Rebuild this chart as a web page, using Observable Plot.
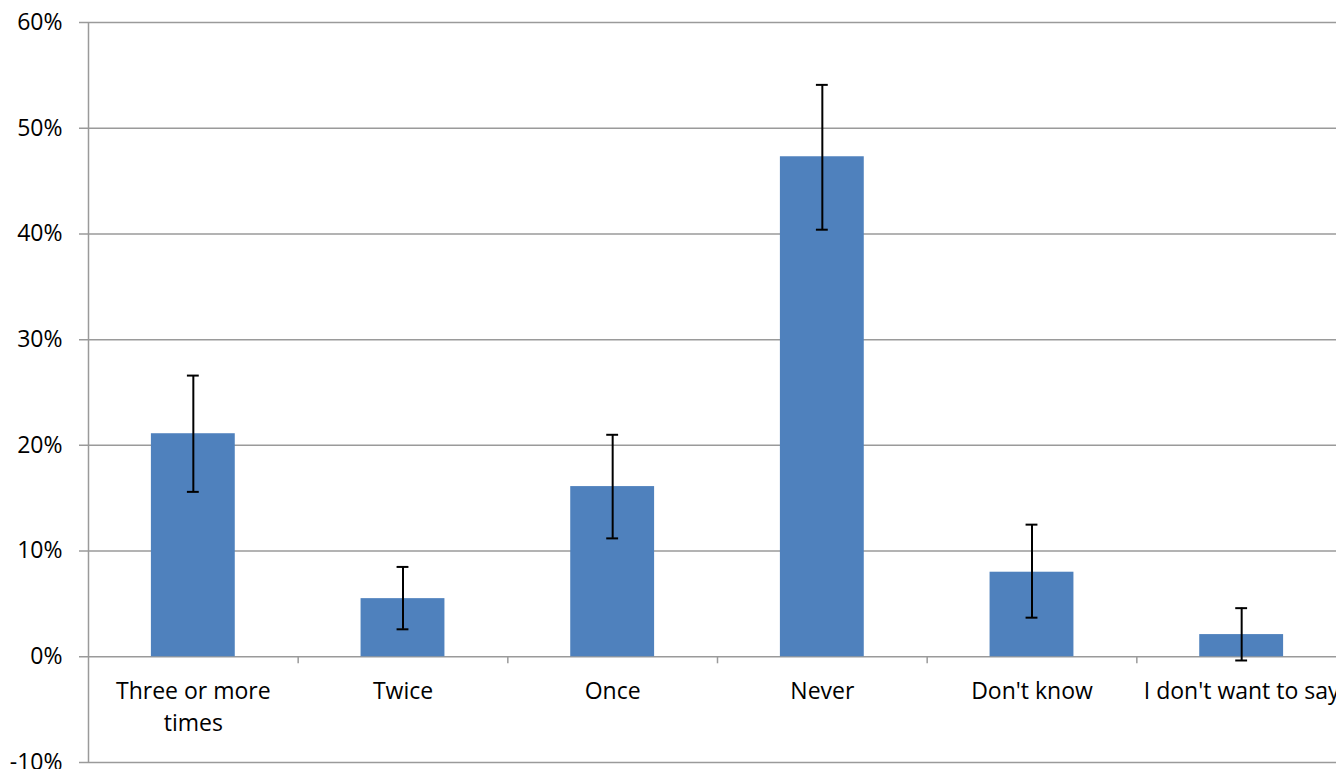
<!DOCTYPE html>
<html>
<head>
<meta charset="utf-8">
<script src="https://cdn.jsdelivr.net/npm/d3@7"></script>
<script src="https://cdn.jsdelivr.net/npm/@observablehq/plot@0.6"></script>
<style>
  html, body { margin: 0; padding: 0; background: #fff; overflow: hidden; }
  #chart svg { display: block; }
</style>
</head>
<body>
<div id="chart"></div>
<script>
const categories = ["Three or more times", "Twice", "Once", "Never", "Don't know", "I don't want to say"];
const tickLabels = ["Three or more\ntimes", "Twice", "Once", "Never", "Don't know", "I don't want to say"];
const values = [21.1, 5.5, 16.1, 47.3, 8.0, 2.1];
const errLow = [15.6, 2.6, 11.2, 40.4, 3.7, -0.35];
const errHigh = [26.6, 8.5, 21.0, 54.1, 12.5, 4.6];
const yTicks = [-10, 0, 10, 20, 30, 40, 50, 60];

const data = categories.map((c, i) => ({cat: c, label: tickLabels[i], value: values[i], lo: errLow[i], hi: errHigh[i]}));

const W = 1336, H = 769, mL = 88, mR = -10, mT = 22, mB = 7;
const step = (W - mL - mR) / categories.length; // paddingInner 0.6 + 2*paddingOuter 0.3 => step = inner/n
const font = "'Open Sans', sans-serif";

const chart = Plot.plot({
  width: W,
  height: H,
  marginLeft: mL,
  marginRight: mR,
  marginTop: mT,
  marginBottom: mB,
  style: {fontFamily: font, background: "#fff", overflow: "hidden"},
  x: {domain: categories, paddingInner: 0.6, paddingOuter: 0.3, round: false, axis: null},
  y: {domain: [-10, 60], axis: null},
  marks: [
    // gridlines with left tick extensions
    Plot.ruleY(yTicks, {stroke: "#9a9a9a", strokeWidth: 1.5, insetLeft: -9}),
    // y axis line
    Plot.ruleX([categories[0]], {stroke: "#9a9a9a", strokeWidth: 1.5, dx: -step / 2}),
    // x tick marks at category boundaries
    Plot.ruleX(categories.slice(1), {y1: 0, y2: 0, insetBottom: -7, stroke: "#9a9a9a", strokeWidth: 1.5, dx: -step / 2}),
    // bars
    Plot.barY(data, {x: "cat", y: "value", fill: "#4F81BD"}),
    // error bars
    Plot.ruleX(data, {x: "cat", y1: "lo", y2: "hi", stroke: "#000", strokeWidth: 2}),
    Plot.tickY(data, {x: "cat", y: "hi", stroke: "#000", strokeWidth: 2, insetLeft: 36, insetRight: 36}),
    Plot.tickY(data, {x: "cat", y: "lo", stroke: "#000", strokeWidth: 2, insetLeft: 36, insetRight: 36}),
    // y tick labels
    Plot.text(yTicks, {y: d => d, text: d => d + "%", frameAnchor: "left", textAnchor: "end", dx: -26, fontSize: 23, fill: "#000", lineAnchor: "middle"}),
    // x category labels
    Plot.text(data, {x: "cat", y: () => 0, text: "label", lineAnchor: "top", dy: 20, fontSize: 23, lineHeight: 1.39, fill: "#000"})
  ]
});
document.getElementById("chart").appendChild(chart);
</script>
</body>
</html>
